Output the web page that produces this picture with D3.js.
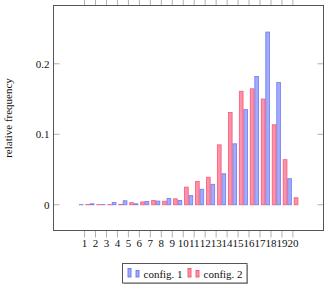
<!DOCTYPE html>
<html><head><meta charset="utf-8">
<script src="https://cdn.jsdelivr.net/npm/d3@7"></script>
<style>body{margin:0;background:#fff}svg{display:block}</style>
</head><body><svg id="c" width="325" height="285" font-family="Liberation Serif, serif" fill="#111"></svg>
<script>
const categories = [1,2,3,4,5,6,7,8,9,10,11,12,13,14,15,16,17,18,19,20];
const config1 = [0.0003,0.0014,0.0003,0.0033,0.0057,0.0014,0.0047,0.0052,0.009,0.006,0.013,0.022,0.029,0.044,0.0865,0.135,0.182,0.245,0.1735,0.037];
const config2 = [0.0005,0.0003,0.0003,0.0006,0.003,0.004,0.006,0.005,0.0085,0.025,0.033,0.039,0.085,0.131,0.161,0.1645,0.150,0.1135,0.064,0.010];
const yTicks = [0,0.1,0.2];
const seriesNames = ["config. 1","config. 2"];

const svg = d3.select("#c");
const L=53.5,R=323.5,T=5.5,B=230.5;
const x = d3.scaleLinear().domain([-1.83,22.79]).range([L,R]);
const y = d3.scaleLinear().domain([-0.0365,0.2827]).range([B,T]);
const bw = 4.7;
const styles = [{fill:"#a3abfb",stroke:"#6675f3",off:-1-bw},{fill:"#fd93aa",stroke:"#f6526f",off:0.8}];
const series=[config1,config2];

const g = svg.append("g");
yTicks.forEach(t=>{
  g.append("line").attr("x1",L).attr("x2",L+6).attr("y1",y(t)).attr("y2",y(t)).attr("stroke","#b0b0b0");
  g.append("line").attr("x1",R-6).attr("x2",R).attr("y1",y(t)).attr("y2",y(t)).attr("stroke","#b0b0b0");
  g.append("text").attr("x",L-4).attr("y",y(t)).attr("dy","0.35em").attr("text-anchor","end").attr("font-size",11).text(d3.format("")(t));
});
series.forEach((s,si)=>{
  svg.append("g").selectAll("rect").data(s).join("rect")
    .attr("x",(d,i)=>x(categories[i])+styles[si].off+0.5)
    .attr("width",bw-1)
    .attr("y",d=>y(d))
    .attr("height",d=>Math.max(0,y(0)-y(d)))
    .attr("fill",styles[si].fill).attr("stroke",styles[si].stroke).attr("stroke-width",0.9).attr("stroke-opacity",0.85);
});
categories.forEach(c=>{
  svg.append("line").attr("x1",x(c)).attr("x2",x(c)).attr("y1",B).attr("y2",B+7).attr("stroke","#b0b0b0");
  svg.append("line").attr("x1",x(c)).attr("x2",x(c)).attr("y1",0).attr("y2",T).attr("stroke","#b0b0b0");
  svg.append("text").attr("x",x(c)).attr("y",246.5).attr("text-anchor","middle").attr("font-size",11).text(c);
});
svg.append("rect").attr("x",L).attr("y",T).attr("width",R-L).attr("height",B-T).attr("fill","none").attr("stroke","#555").attr("stroke-width",1);
svg.append("text").attr("transform",`translate(12,${(T+B)/2}) rotate(-90)`).attr("text-anchor","middle").attr("font-size",11).text("relative frequency");
const lg = svg.append("g");
lg.append("rect").attr("x",124).attr("y",265).attr("width",124).attr("height",19).attr("fill","#aaa");
lg.append("rect").attr("x",122.5).attr("y",263.5).attr("width",124.5).attr("height",19.5).attr("fill","#fff").attr("stroke","#555");
const lx=[127.5,187.5];
seriesNames.forEach((n,i)=>{
  lg.append("rect").attr("x",lx[i]+0.5).attr("y",268.5).attr("width",3).attr("height",8.5).attr("fill",styles[i].fill).attr("stroke",styles[i].stroke).attr("stroke-width",0.9);
  lg.append("rect").attr("x",lx[i]+8.5).attr("y",270.5).attr("width",3).attr("height",6.5).attr("fill",styles[i].fill).attr("stroke",styles[i].stroke).attr("stroke-width",0.9);
  lg.append("text").attr("x",lx[i]+16).attr("y",277.5).attr("font-size",11).text(n);
});
</script></body></html>
